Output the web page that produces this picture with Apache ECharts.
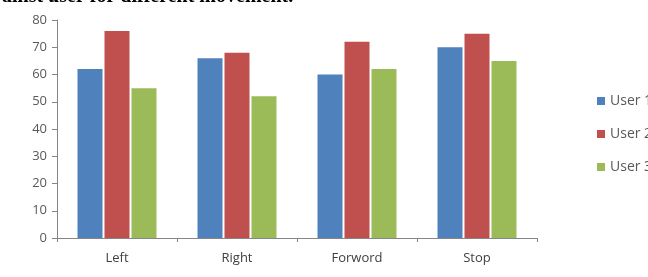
<!DOCTYPE html>
<html>
<head>
<meta charset="utf-8">
<script src="https://cdn.jsdelivr.net/npm/echarts@6/dist/echarts.min.js"></script>
<style>
html, body { margin: 0; padding: 0; background: #fff; }
#bar { width: 648px; height: 277px; }
</style>
</head>
<body>
<div id="bar"></div>
<script>
var movements = ['Left', 'Right', 'Forword', 'Stop']
var users = ['User 1', 'User 2', 'User 3']
var user1 = [62, 66, 60, 70]
var user2 = [76, 68, 72, 75]
var user3 = [55, 52, 62, 65]
var yTicks = [0, 10, 20, 30, 40, 50, 60, 70, 80]

let myChart = echarts.init(document.getElementById('bar'))
let values = [user1, user2, user3]
let series = []
for (let i in users) {
	series.push({
		name: users[i],
		type: 'bar',
		barWidth: 25,
		barGap: '8%',
		data: values[i]
	})
}

let option = {
	animation: false,
	color: ['#4F81BD', '#C0504D', '#9BBB59'],
	title: {
		text: 'ainst user for different movement.',
		left: -3,
		top: -18,
		textStyle: {
			fontFamily: 'Liberation Serif',
			fontWeight: 'bold',
			fontSize: 20,
			color: '#000'
		}
	},
	legend: {
		data: users,
		orient: 'vertical',
		left: 592,
		top: 89,
		itemWidth: 8,
		itemHeight: 8,
		itemGap: 19,
		icon: 'rect',
		textStyle: {
			fontFamily: 'Open Sans',
			fontSize: 14,
			color: '#595959'
		}
	},
	grid: {
		left: 57,
		right: 111,
		top: 20,
		bottom: 39
	},
	xAxis: [{
		type: 'category',
		data: movements,
		axisLine: { lineStyle: { color: '#868686' } },
		axisTick: { show: true, length: 4, lineStyle: { color: '#868686' } },
		axisLabel: {
			margin: 14,
			fontFamily: 'Open Sans',
			fontSize: 13,
			color: '#404040'
		}
	}],
	yAxis: [{
		type: 'value',
		min: yTicks[0],
		max: yTicks[yTicks.length - 1],
		interval: 10,
		axisLine: { show: true, lineStyle: { color: '#868686' } },
		axisTick: { show: true, length: 5, lineStyle: { color: '#868686' } },
		splitLine: { show: false },
		axisLabel: {
			margin: 10,
			fontFamily: 'Open Sans',
			fontSize: 13,
			color: '#595959'
		}
	}],
	series: series
}
myChart.setOption(option)
</script>
</body>
</html>
